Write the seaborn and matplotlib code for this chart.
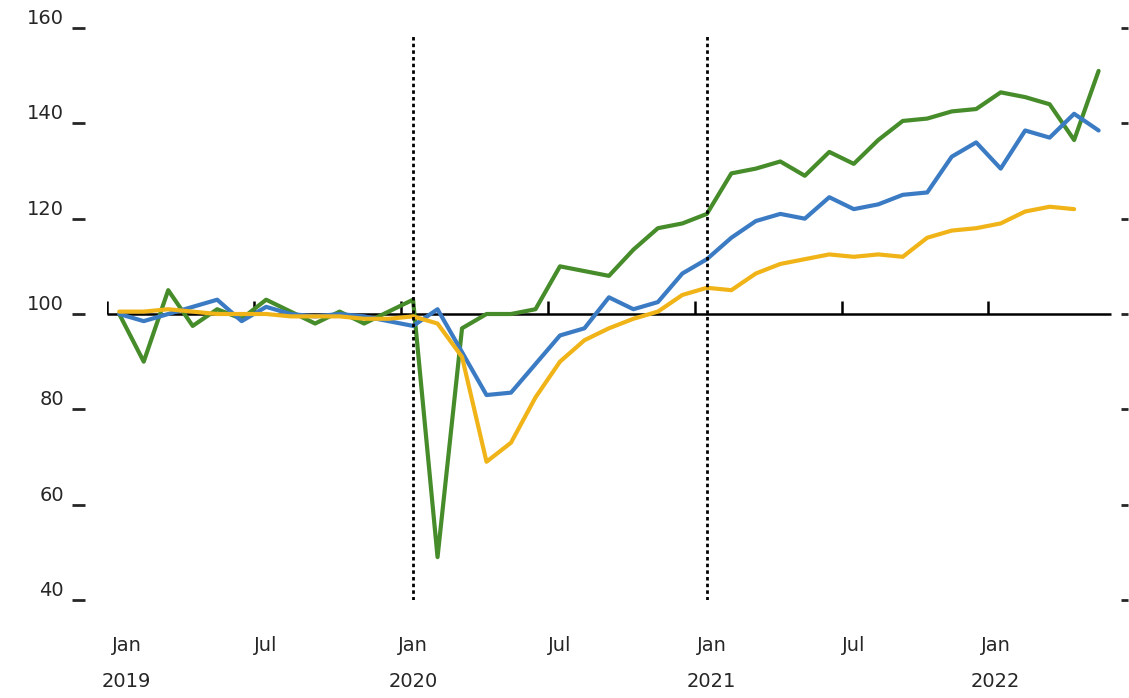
import pandas as pd
import seaborn as sns
import matplotlib.pyplot as plt

# monthly index values, Jan 2019 = month 0
green = [100, 90, 105, 97.5, 101, 99, 103, 100.5, 98, 100.5, 98, 100.5,
         103, 49, 97, 100, 100, 101, 110, 109, 108, 113.5, 118, 119,
         121, 129.5, 130.5, 132, 129, 134, 131.5, 136.5, 140.5, 141, 142.5, 143,
         146.5, 145.5, 144, 136.5, 151]
blue = [100, 98.5, 100, 101.5, 103, 98.5, 101.5, 100, 99.5, 100, 99.5, 98.5,
        97.5, 101, 92, 83, 83.5, 89.5, 95.5, 97, 103.5, 101, 102.5, 108.5,
        111.5, 116, 119.5, 121, 120, 124.5, 122, 123, 125, 125.5, 133, 136,
        130.5, 138.5, 137, 142, 138.5]
yellow = [100.5, 100.5, 101, 100.5, 100, 100, 100, 99.5, 99.5, 99.5, 99, 99,
          99.5, 98, 91, 69, 73, 82.5, 90, 94.5, 97, 99, 100.5, 104,
          105.5, 105, 108.5, 110.5, 111.5, 112.5, 112, 112.5, 112, 116, 117.5, 118,
          119, 121.5, 122.5, 122]

x_labels = ["Jan\n2019", "Jul", "Jan\n2020", "Jul", "Jan\n2021", "Jul", "Jan\n2022"]
x_label_pos = [0.3, 6, 12, 18, 24.2, 30, 35.8]
half_year_ticks = [-0.5, 5.5, 11.5, 17.5, 23.5, 29.5, 35.5]
y_ticks = [40, 60, 80, 100, 120, 140, 160]
marker_months = [12, 24]

rows = []
for name, vals in [("green", green), ("blue", blue), ("yellow", yellow)]:
    for i, v in enumerate(vals):
        rows.append({"month": i, "value": v, "series": name})
df = pd.DataFrame(rows)

sns.set_style("white")
plt.rcParams['font.family'] = ['DejaVu Sans']

fig = plt.figure(figsize=(11.29, 6.98), dpi=100)
ax = fig.add_axes([107 / 1129, 1 - 600 / 698, (1128 - 107) / 1129, (600 - 28) / 698])

palette = {"green": "#478c2a", "blue": "#3b7bc4", "yellow": "#f0b418"}
sns.lineplot(data=df, x="month", y="value", hue="series", hue_order=["green", "blue", "yellow"],
             palette=palette, linewidth=3, legend=False, ax=ax, zorder=2)

# baseline at 100 with half-year ticks
ax.hlines(100, -0.5, 40.5, color="black", linewidth=1.8, zorder=1.5)
ax.vlines(half_year_ticks, 100, 102.8, color="black", linewidth=1.8, zorder=1.5)

for m in marker_months:
    ax.vlines(m, 40, 158.5, color="black", linestyle=(0, (1.25, 1.15)), linewidth=2, zorder=3)

ax.set_xlim(-0.5, 41.2)
ax.set_ylim(40, 160)

for s in ["top", "bottom", "right"]:
    ax.spines[s].set_visible(False)
ax.spines["left"].set_position(("outward", 25))
ax.spines["left"].set_color("none")

ax.set_yticks(y_ticks)
ax.set_yticklabels([str(v) for v in y_ticks], fontsize=14)
ax.tick_params(axis="y", direction="in", length=9.5, width=2, pad=6, left=True, right=True)
for t in ax.yaxis.get_major_ticks():
    t.tick2line.set_markersize(5)
for lab in ax.get_yticklabels():
    lab.set_verticalalignment("bottom")

ax.set_xticks(x_label_pos)
ax.set_xticklabels(x_labels, fontsize=14, linespacing=2.1)
ax.tick_params(axis="x", length=0, pad=26)

ax.set_xlabel("")
ax.set_ylabel("")

plt.savefig("out.png", dpi=100)
